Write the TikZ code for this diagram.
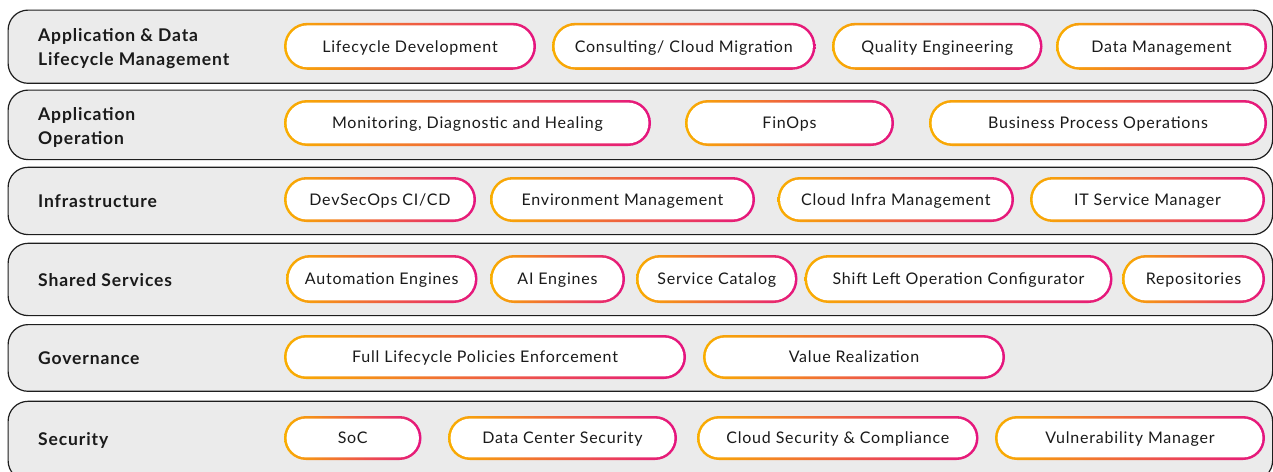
\documentclass[tikz,border=0pt]{standalone}
\usepackage{fontspec}
\setmainfont{Lato}[LetterSpace=5]
\definecolor{rowfill}{HTML}{EBEBEB}
\definecolor{rowline}{HTML}{1E1E1E}
\definecolor{pO}{HTML}{F9AE00}
\definecolor{pP}{HTML}{E5147F}
\definecolor{txt}{HTML}{1A1A1A}
\tikzset{
  rowbox/.style={draw=rowline, line width=1.2pt, fill=rowfill, rounded corners=20pt, inner sep=0pt},
  rowlabel/.style={anchor=west, align=left, inner sep=0pt, text=txt,
     font=\fontsize{17.5}{24}\selectfont\bfseries},
  pilltext/.style={inner sep=0pt, anchor=base, text=txt, font=\fontsize{16}{18}\selectfont}
}
\newcommand\pillbox[6]{%
  \pgfmathsetmacro\pillR{#5/2}%
  \pgfmathsetmacro\pillRi{#5/2-2.6}%
  \shade[left color=pO, right color=pP, rounded corners=\pillR pt]
     (#2,{#4-#5/2}) rectangle (#3,{#4+#5/2});
  \fill[white, rounded corners=\pillRi pt]
     ({#2+2.6},{#4-#5/2+2.6}) rectangle ({#3-2.6},{#4+#5/2-2.6});
  \node[pilltext] (#1) at ({(#2+#3)/2},{#4+5.8}) {#6};
}
\newcommand\rowpanel[3]{% name, ytop, ybottom
  \pgfmathsetmacro\rowH{#3-#2}%
  \node[rowbox, minimum width=1264.5pt, minimum height=\rowH pt, anchor=north west]
     (#1) at (7.5,#2) {};
}
\begin{document}
\begin{tikzpicture}[x=1pt, y=-1pt]
\useasboundingbox (0,0) rectangle (1273,471);
\clip (0,0) rectangle (1273,471);
\fill[white] (0,0) rectangle (1273,471);
% rows
\rowpanel{r1}{9.5}{82.7}
\rowpanel{r2}{89.5}{159}
\rowpanel{r3}{166.7}{234}
\rowpanel{r4}{242.7}{315}
\rowpanel{r5}{324}{390.7}
\rowpanel{r6}{400.7}{480}
% labels
\node[rowlabel] (l1) at (38,48.5) {Application \& Data\\Lifecycle Management};
\node[rowlabel] (l2) at (38,127) {Application\\Operation};
\node[rowlabel] (l3) at (38,201.5) {Infrastructure};
\node[rowlabel] (l4) at (38,280.5) {Shared Services};
\node[rowlabel] (l5) at (38,358.5) {Governance};
\node[rowlabel] (l6) at (38,440.5) {Security};
% row 1
\pillbox{p11}{284}{536}{46.3}{47}{Lifecycle Development}
\pillbox{p12}{552}{815.5}{46.3}{47}{Consulting/ Cloud Migration}
\pillbox{p13}{832}{1042.5}{46.3}{47}{Quality Engineering}
\pillbox{p14}{1056}{1267}{46.3}{47}{Data Management}
% row 2
\pillbox{p21}{284}{651}{123}{46}{Monitoring, Diagnostic and Healing}
\pillbox{p22}{685}{894}{123}{46}{FinOps}
\pillbox{p23}{929}{1267}{123}{46}{Business Process Operations}
% row 3
\pillbox{p31}{284}{476}{199.5}{45}{DevSecOps CI/CD}
\pillbox{p32}{490}{755}{199.5}{45}{Environment Management}
\pillbox{p33}{777.5}{1014}{199.5}{45}{Cloud Infra Management}
\pillbox{p34}{1030}{1265}{199.5}{45}{IT Service Manager}
% row 4
\pillbox{p41}{286}{477.5}{279}{48}{Automation Engines}
\pillbox{p42}{490}{625}{279}{48}{AI Engines}
\pillbox{p43}{636}{797.5}{279}{48}{Service Catalog}
\pillbox{p44}{804.5}{1112.5}{279}{48}{Shift Left Operation Configurator}
\pillbox{p45}{1122}{1265}{279}{48}{Repositories}
% row 5
\pillbox{p51}{284}{686}{357}{44}{Full Lifecycle Policies Enforcement}
\pillbox{p52}{703}{1005}{357}{44}{Value Realization}
% row 6
\pillbox{p61}{284}{421.5}{438}{44}{SoC}
\pillbox{p62}{448}{677}{438}{44}{Data Center Security}
\pillbox{p63}{697}{978.5}{438}{44}{Cloud Security \& Compliance}
\pillbox{p64}{995}{1265}{438}{44}{Vulnerability Manager}
\end{tikzpicture}
\end{document}
